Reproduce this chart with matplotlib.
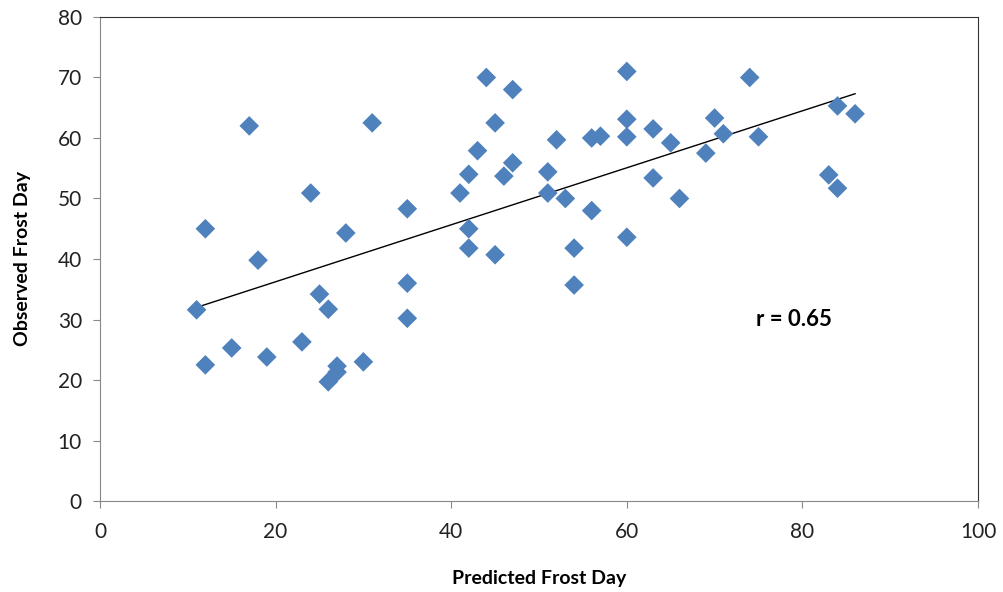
import matplotlib.pyplot as plt
import numpy as np

plt.rcParams['font.family'] = ['Lato', 'DejaVu Sans']

# predicted vs observed frost day
predicted = [11, 12, 12, 15, 18, 17, 19, 23, 24, 25, 26, 28, 26, 27, 27, 30,
             31, 35, 35, 35, 41, 42, 42, 42, 43, 44, 45, 45, 46, 47, 47, 51,
             51, 52, 53, 54, 54, 56, 56, 57, 60, 60, 60, 60, 63, 63, 65, 66,
             69, 70, 71, 74, 75, 83, 84, 84, 86]
observed = [31.6, 22.5, 45, 25.3, 39.8, 62, 23.8, 26.3, 50.9, 34.2, 31.7, 44.3,
            19.7, 21.3, 22.3, 23, 62.5, 48.3, 36, 30.2, 50.9, 54, 45, 41.8,
            57.9, 70, 62.5, 40.7, 53.7, 55.9, 68, 54.4, 50.9, 59.7, 50, 41.8,
            35.7, 60, 48, 60.3, 71, 63.1, 60.2, 43.6, 61.5, 53.4, 59.2, 50,
            57.5, 63.3, 60.7, 70, 60.2, 53.9, 51.7, 65.3, 64]
r_text = 'r = 0.65'

fig = plt.figure(figsize=(10.04, 5.92), dpi=100)
ax = fig.add_axes([0.0996, 0.1537, 0.8745, 0.8176])

ax.scatter(predicted, observed, marker='D', s=100, color='#4F81BD',
           edgecolors='none', zorder=3)

# linear trend line across the data range
m, b = np.polyfit(predicted, observed, 1)
xs = np.array([min(predicted), max(predicted)])
ax.plot(xs, m * xs + b, color='black', lw=1, zorder=2)

ax.text(79, 30, r_text, fontsize=16, fontweight='bold', ha='center',
        va='center')

ax.set_xlim(0, 100)
ax.set_ylim(0, 80)
ax.set_xticks(range(0, 101, 20))
ax.set_yticks(range(0, 81, 10))
ax.tick_params(direction='out', length=5, color='#888888', labelsize=15,
               labelcolor='#222222')
ax.tick_params(axis='x', pad=10)
ax.tick_params(axis='y', pad=8)
for side in ['left', 'bottom']:
    ax.spines[side].set_color('#888888')
for side in ['top', 'right']:
    ax.spines[side].set_color('#333333')

ax.set_xlabel('Predicted Frost Day', fontsize=14, fontweight='bold',
              labelpad=20)
ax.set_ylabel('Observed Frost Day', fontsize=14, fontweight='bold',
              labelpad=19)

fig.savefig('out.png', dpi=100)
